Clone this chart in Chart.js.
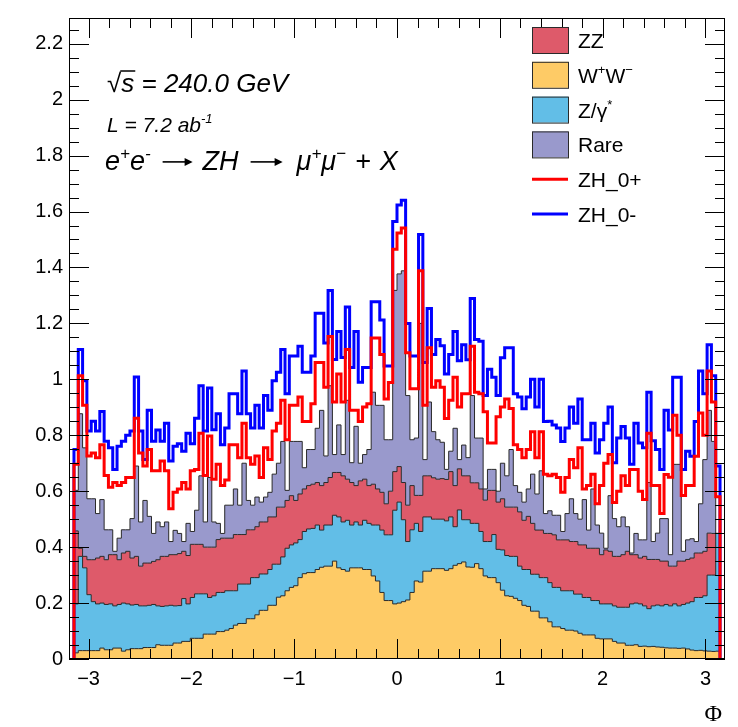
<!DOCTYPE html>
<html>
<head>
<meta charset="utf-8">
<script src="https://cdn.jsdelivr.net/npm/chart.js@4.4.1/dist/chart.umd.min.js"></script>
<style>
  html, body { margin: 0; padding: 0; background: #fff; }
  canvas { display: block; }
</style>
</head>
<body>
<canvas id="phiChart" width="738" height="727"></canvas>
<script>
// binning of the Phi histogram
const nBins = 150;
const phiMin = -Math.PI;
const phiMax = Math.PI;

const xTicks = [-3, -2, -1, 0, 1, 2, 3];
const yTicks = [0, 0.2, 0.4, 0.6, 0.8, 1, 1.2, 1.4, 1.6, 1.8, 2, 2.2];

// stacked background, height of each layer's top edge per bin
const topWW = [
  0.022, 0.030, 0.030, 0.030, 0.030, 0.030, 0.039, 0.033, 0.033, 0.039,
  0.039, 0.028, 0.033, 0.037, 0.037, 0.037, 0.041, 0.041, 0.041, 0.051,
  0.049, 0.049, 0.049, 0.057, 0.057, 0.063, 0.063, 0.074, 0.074, 0.074,
  0.089, 0.089, 0.089, 0.098, 0.098, 0.103, 0.109, 0.121, 0.127, 0.127,
  0.144, 0.144, 0.158, 0.174, 0.174, 0.192, 0.192, 0.221, 0.226, 0.244,
  0.256, 0.262, 0.291, 0.305, 0.309, 0.309, 0.320, 0.328, 0.332, 0.332,
  0.350, 0.326, 0.320, 0.314, 0.326, 0.326, 0.326, 0.320, 0.320, 0.297,
  0.279, 0.238, 0.209, 0.209, 0.197, 0.200, 0.205, 0.211, 0.238, 0.279,
  0.275, 0.314, 0.314, 0.323, 0.323, 0.323, 0.317, 0.323, 0.335, 0.341,
  0.347, 0.329, 0.328, 0.341, 0.323, 0.297, 0.291, 0.291, 0.273, 0.246,
  0.226, 0.224, 0.217, 0.209, 0.192, 0.188, 0.171, 0.171, 0.147, 0.147,
  0.133, 0.115, 0.115, 0.109, 0.103, 0.103, 0.100, 0.092, 0.086, 0.086,
  0.086, 0.074, 0.072, 0.072, 0.072, 0.063, 0.057, 0.057, 0.049, 0.049,
  0.051, 0.045, 0.046, 0.044, 0.045, 0.043, 0.042, 0.040, 0.039, 0.039,
  0.038, 0.039, 0.036, 0.032, 0.030, 0.031, 0.029, 0.028, 0.027, 0.028
];
const topZg = [
  0.197, 0.367, 0.326, 0.230, 0.205, 0.197, 0.200, 0.195, 0.197, 0.190,
  0.195, 0.200, 0.197, 0.193, 0.195, 0.190, 0.190, 0.192, 0.195, 0.190,
  0.188, 0.190, 0.192, 0.190, 0.191, 0.216, 0.197, 0.220, 0.233, 0.233,
  0.233, 0.220, 0.226, 0.238, 0.238, 0.244, 0.244, 0.244, 0.268, 0.268,
  0.268, 0.291, 0.291, 0.304, 0.304, 0.320, 0.339, 0.339, 0.365, 0.396,
  0.408, 0.415, 0.427, 0.456, 0.465, 0.467, 0.479, 0.461, 0.479, 0.479,
  0.514, 0.508, 0.490, 0.496, 0.479, 0.490, 0.479, 0.496, 0.485, 0.479,
  0.479, 0.461, 0.444, 0.444, 0.532, 0.561, 0.498, 0.420, 0.462, 0.485,
  0.456, 0.508, 0.508, 0.500, 0.500, 0.500, 0.494, 0.508, 0.473, 0.533,
  0.498, 0.498, 0.485, 0.485, 0.456, 0.420, 0.420, 0.445, 0.392, 0.390,
  0.370, 0.367, 0.367, 0.332, 0.320, 0.320, 0.303, 0.303, 0.291, 0.291,
  0.273, 0.256, 0.256, 0.244, 0.244, 0.244, 0.232, 0.232, 0.220, 0.220,
  0.209, 0.209, 0.197, 0.197, 0.197, 0.190, 0.185, 0.185, 0.185, 0.197,
  0.200, 0.197, 0.190, 0.180, 0.190, 0.193, 0.190, 0.195, 0.190, 0.197,
  0.190, 0.195, 0.200, 0.205, 0.220, 0.220, 0.226, 0.300, 0.300, 0.449
];
const topZZ = [
  0.458, 0.396, 0.367, 0.355, 0.355, 0.361, 0.367, 0.355, 0.373, 0.373,
  0.355, 0.379, 0.385, 0.361, 0.367, 0.332, 0.343, 0.343, 0.349, 0.355,
  0.367, 0.367, 0.373, 0.373, 0.377, 0.385, 0.370, 0.410, 0.410, 0.410,
  0.400, 0.400, 0.400, 0.427, 0.432, 0.432, 0.432, 0.445, 0.445, 0.445,
  0.462, 0.462, 0.473, 0.490, 0.490, 0.508, 0.508, 0.543, 0.543, 0.567,
  0.584, 0.567, 0.590, 0.608, 0.620, 0.625, 0.631, 0.620, 0.631, 0.649,
  0.667, 0.667, 0.655, 0.643, 0.631, 0.620, 0.637, 0.643, 0.620, 0.625,
  0.608, 0.596, 0.555, 0.600, 0.670, 0.688, 0.631, 0.550, 0.620, 0.585,
  0.585, 0.655, 0.655, 0.648, 0.643, 0.645, 0.642, 0.670, 0.620, 0.680,
  0.655, 0.655, 0.630, 0.630, 0.608, 0.568, 0.603, 0.603, 0.561, 0.573,
  0.543, 0.543, 0.543, 0.526, 0.496, 0.510, 0.485, 0.461, 0.461, 0.449,
  0.449, 0.444, 0.426, 0.426, 0.426, 0.420, 0.420, 0.408, 0.408, 0.396,
  0.396, 0.396, 0.373, 0.390, 0.385, 0.367, 0.367, 0.373, 0.385, 0.373,
  0.373, 0.361, 0.367, 0.356, 0.356, 0.356, 0.350, 0.350, 0.332, 0.332,
  0.350, 0.350, 0.356, 0.361, 0.379, 0.379, 0.385, 0.450, 0.449, 0.449
];
const topRare = [
  0.603, 0.877, 0.755, 0.573, 0.573, 0.520, 0.570, 0.462, 0.462, 0.385,
  0.432, 0.462, 0.462, 0.502, 0.690, 0.490, 0.567, 0.510, 0.449, 0.490,
  0.473, 0.490, 0.420, 0.460, 0.449, 0.420, 0.485, 0.456, 0.532, 0.655,
  0.490, 0.649, 0.490, 0.485, 0.449, 0.550, 0.550, 0.608, 0.550, 0.700,
  0.567, 0.550, 0.579, 0.561, 0.579, 0.596, 0.661, 0.700, 0.778, 0.603,
  0.778, 0.778, 0.778, 0.684, 0.749, 0.749, 0.825, 0.889, 0.726, 0.977,
  0.731, 0.837, 0.731, 0.925, 0.702, 0.832, 0.700, 0.731, 0.749, 0.954,
  0.907, 0.907, 0.784, 0.784, 1.318, 1.377, 1.388, 0.942, 0.784, 0.790,
  1.200, 0.713, 0.919, 0.813, 0.784, 0.775, 0.678, 0.743, 0.825, 0.713,
  0.765, 0.720, 0.942, 0.790, 0.790, 0.608, 0.678, 0.678, 0.600, 0.700,
  0.655, 0.749, 0.620, 0.596, 0.561, 0.608, 0.661, 0.590, 0.673, 0.520,
  0.530, 0.514, 0.514, 0.456, 0.520, 0.573, 0.520, 0.500, 0.570, 0.461,
  0.608, 0.479, 0.450, 0.396, 0.584, 0.502, 0.473, 0.508, 0.473, 0.379,
  0.449, 0.426, 0.426, 0.631, 0.420, 0.450, 0.502, 0.502, 0.373, 0.696,
  0.696, 0.385, 0.426, 0.430, 0.420, 0.555, 0.713, 0.889, 0.778, 0.449
];

// background + signal, one line per CP hypothesis
const lineZH0p = [
  0.696, 1.013, 0.907, 0.726, 0.737, 0.720, 0.766, 0.656, 0.614, 0.631,
  0.620, 0.631, 0.649, 0.649, 0.861, 0.737, 0.690, 0.749, 0.673, 0.673,
  0.708, 0.673, 0.537, 0.596, 0.608, 0.631, 0.608, 0.673, 0.678, 0.807,
  0.656, 0.797, 0.643, 0.696, 0.620, 0.640, 0.766, 0.766, 0.720, 0.843,
  0.720, 0.696, 0.726, 0.649, 0.755, 0.713, 0.815, 0.843, 0.925, 0.784,
  0.907, 0.907, 0.937, 0.849, 0.849, 0.913, 1.060, 1.060, 0.972, 1.153,
  0.919, 1.019, 0.919, 1.107, 0.889, 0.889, 0.849, 0.901, 0.913, 1.148,
  1.148, 1.089, 0.930, 0.989, 1.465, 1.523, 1.541, 1.095, 0.966, 0.966,
  1.388, 0.907, 1.113, 0.972, 0.995, 0.972, 0.860, 0.925, 1.007, 0.901,
  0.948, 0.948, 1.118, 0.954, 0.948, 0.884, 0.772, 0.772, 0.866, 0.901,
  0.930, 0.896, 0.766, 0.749, 0.720, 0.749, 0.813, 0.720, 0.813, 0.661,
  0.655, 0.661, 0.649, 0.596, 0.649, 0.713, 0.684, 0.755, 0.608, 0.620,
  0.661, 0.555, 0.620, 0.700, 0.731, 0.560, 0.600, 0.655, 0.620, 0.678,
  0.678, 0.600, 0.570, 0.807, 0.620, 0.620, 0.520, 0.660, 0.650, 0.872,
  0.800, 0.585, 0.620, 0.620, 0.725, 0.880, 0.800, 1.030, 0.919, 0.580
];
const lineZH0m = [
  0.749, 1.107, 0.995, 0.815, 0.850, 0.815, 0.885, 0.779, 0.755, 0.678,
  0.761, 0.779, 0.800, 0.815, 1.008, 0.815, 0.713, 0.889, 0.779, 0.819,
  0.779, 0.843, 0.708, 0.761, 0.770, 0.743, 0.807, 0.770, 0.861, 0.977,
  0.815, 0.969, 0.820, 0.877, 0.766, 0.826, 0.948, 0.948, 0.877, 1.030,
  0.877, 0.826, 0.907, 0.826, 0.942, 0.889, 0.995, 1.025, 1.107, 0.948,
  1.083, 1.083, 1.118, 1.025, 1.025, 1.083, 1.236, 1.236, 1.130, 1.318,
  1.071, 1.171, 1.078, 1.259, 1.042, 1.171, 0.990, 1.042, 1.042, 1.277,
  1.277, 1.212, 1.048, 1.048, 1.564, 1.623, 1.640, 1.200, 1.083, 1.083,
  1.518, 1.060, 1.253, 1.089, 1.142, 1.120, 1.019, 1.089, 1.171, 1.066,
  1.124, 1.070, 1.289, 1.142, 1.136, 0.942, 1.036, 1.007, 0.942, 1.077,
  1.113, 1.113, 0.948, 0.937, 0.895, 0.937, 1.000, 0.901, 1.000, 0.849,
  0.850, 0.837, 0.826, 0.778, 0.826, 0.901, 0.843, 0.930, 0.784, 0.784,
  0.843, 0.737, 0.784, 0.843, 0.901, 0.702, 0.790, 0.831, 0.790, 0.696,
  0.843, 0.772, 0.755, 0.954, 0.780, 0.749, 0.678, 0.889, 0.819, 1.007,
  1.007, 0.678, 0.743, 0.725, 0.849, 1.030, 0.948, 1.124, 1.013, 0.690
];

const colZZ = '#de5a6a';
const colWW = '#fecb66';
const colZg = '#62bee7';
const colRare = '#9999cc';
const colZH0p = '#ff0000';
const colZH0m = '#0000ff';

const FONT = "'Liberation Sans', Arial, sans-serif";

function binEdge(i) {
  return phiMin + (phiMax - phiMin) * i / nBins;
}

// histogram outline: drop to zero at both ends like a ROOT "hist" contour
function histPoints(values) {
  const pts = [{ x: binEdge(0), y: 0 }];
  values.forEach((v, i) => pts.push({ x: binEdge(i), y: v }));
  pts.push({ x: binEdge(nBins), y: values[nBins - 1] });
  pts.push({ x: binEdge(nBins), y: 0 });
  return pts;
}

function stackLayer(label, values, color, fill) {
  return {
    label: label,
    data: histPoints(values),
    stepped: true,
    fill: fill,
    backgroundColor: color,
    borderColor: '#2a2a2a',
    borderWidth: 1
  };
}

function signalLine(label, values, color) {
  return {
    label: label,
    data: histPoints(values),
    stepped: true,
    fill: false,
    borderColor: color,
    borderWidth: 3
  };
}

// text with superscripts, gaps and drawn arrows; returns the x extent of every piece
function drawParts(ctx, parts, x, y, size, style) {
  let cx = x;
  const spans = [];
  parts.forEach(p => {
    if (p.gap) {
      cx += p.gap;
      spans.push({ x0: cx, x1: cx });
      return;
    }
    if (p.arrow) {
      const ay = y - size * 0.3;
      ctx.save();
      ctx.strokeStyle = ctx.fillStyle;
      ctx.lineWidth = 1.6;
      ctx.beginPath();
      ctx.moveTo(cx, ay); ctx.lineTo(cx + p.arrow - 2, ay);
      ctx.stroke();
      ctx.beginPath();
      ctx.moveTo(cx + p.arrow, ay);
      ctx.lineTo(cx + p.arrow - 8, ay - 4);
      ctx.lineTo(cx + p.arrow - 8, ay + 4);
      ctx.closePath();
      ctx.fill();
      ctx.restore();
      spans.push({ x0: cx, x1: cx + p.arrow });
      cx += p.arrow;
      return;
    }
    const s = p.sup ? Math.round(size * 0.62) : size;
    ctx.font = style + ' ' + s + 'px ' + FONT;
    ctx.fillText(p.t, cx, p.sup ? y - size * 0.42 : y);
    const w = ctx.measureText(p.t).width;
    spans.push({ x0: cx, x1: cx + w });
    cx += w;
  });
  return spans;
}

const legendEntries = [
  { parts: [{ t: 'ZZ' }], fill: colZZ },
  { parts: [{ t: 'W' }, { t: '+', sup: true }, { t: 'W' }, { t: '\u2212', sup: true }], fill: colWW },
  { parts: [{ t: 'Z/\u03b3' }, { t: '*', sup: true }], fill: colZg },
  { parts: [{ t: 'Rare' }], fill: colRare },
  { parts: [{ t: 'ZH_0+' }], line: colZH0p },
  { parts: [{ t: 'ZH_0-' }], line: colZH0m }
];

// frame with inward ticks on all four sides
const rootAxes = {
  id: 'rootAxes',
  afterDatasetsDraw(chart) {
    const { ctx, chartArea: a, scales: { x, y } } = chart;
    ctx.save();
    ctx.strokeStyle = '#000';
    ctx.lineWidth = 1;
    ctx.beginPath();
    for (let k = 0; k * 0.05 <= y.max; k++) {
      const py = Math.round(y.getPixelForValue(k * 0.05)) + 0.5;
      const len = k % 4 === 0 ? 20 : 10;
      ctx.moveTo(a.left, py); ctx.lineTo(a.left + len, py);
      ctx.moveTo(a.right, py); ctx.lineTo(a.right - len, py);
    }
    for (let k = -16; k <= 16; k++) {
      const v = k * 0.2;
      if (v < x.min || v > x.max) continue;
      const px = Math.round(x.getPixelForValue(v)) + 0.5;
      const len = k % 5 === 0 ? 20 : 10;
      ctx.moveTo(px, a.bottom); ctx.lineTo(px, a.bottom - len);
      ctx.moveTo(px, a.top); ctx.lineTo(px, a.top + len);
    }
    ctx.stroke();
    ctx.strokeRect(Math.round(a.left) + 0.5, Math.round(a.top) + 0.5,
      Math.round(a.width) - 1, Math.round(a.height) - 1);
    ctx.restore();
  }
};

// legend, process text and axis title
const rootLabels = {
  id: 'rootLabels',
  afterDraw(chart) {
    const ctx = chart.ctx;
    ctx.save();
    ctx.fillStyle = '#000';
    ctx.textBaseline = 'alphabetic';

    legendEntries.forEach((e, i) => {
      const cy = 40 + i * 34.8;
      if (e.fill) {
        ctx.fillStyle = e.fill;
        ctx.fillRect(532, cy - 13, 36, 26);
        ctx.strokeStyle = '#2a2a2a';
        ctx.lineWidth = 1;
        ctx.strokeRect(532.5, cy - 12.5, 36, 26);
      } else {
        ctx.strokeStyle = e.line;
        ctx.lineWidth = 3;
        ctx.beginPath();
        ctx.moveTo(532, cy); ctx.lineTo(568, cy);
        ctx.stroke();
      }
      ctx.fillStyle = '#000';
      drawParts(ctx, e.parts, 578, cy + 8, 21, 'normal');
    });

    // sqrt(s) with its overline
    const sp = drawParts(ctx, [{ t: '\u221a' }, { t: 's' }, { t: ' = 240.0 GeV' }], 107, 92, 26, 'italic');
    ctx.strokeStyle = '#000';
    ctx.lineWidth = 1.5;
    ctx.beginPath();
    ctx.moveTo(sp[0].x1 - 1, 92 - 21);
    ctx.lineTo(sp[1].x1 + 1, 92 - 21);
    ctx.stroke();

    drawParts(ctx, [{ t: 'L = 7.2 ab' }, { t: '-1', sup: true }], 107, 132, 21, 'italic');

    drawParts(ctx, [
      { t: 'e' }, { t: '+', sup: true }, { t: 'e' }, { t: '-', sup: true },
      { gap: 12 }, { arrow: 30 }, { gap: 10 },
      { t: 'ZH' },
      { gap: 12 }, { arrow: 32 }, { gap: 14 },
      { t: '\u03bc' }, { t: '+', sup: true }, { t: '\u03bc' }, { t: '\u2212', sup: true },
      { gap: 9 }, { t: '+' }, { gap: 9 }, { t: 'X' }
    ], 105, 170, 27, 'italic');

    ctx.font = "24px 'Liberation Serif', 'DejaVu Serif', serif";
    ctx.textAlign = 'right';
    ctx.fillText('\u03a6', 722, 721);
    ctx.restore();
  }
};

new Chart(document.getElementById('phiChart'), {
  type: 'line',
  data: {
    datasets: [
      signalLine('ZH_0+', lineZH0p, colZH0p),
      signalLine('ZH_0-', lineZH0m, colZH0m),
      stackLayer('Rare', topRare, colRare, '+1'),
      stackLayer('ZZ', topZZ, colZZ, '+1'),
      stackLayer('Z/\u03b3*', topZg, colZg, '+1'),
      stackLayer('W+W-', topWW, colWW, 'origin')
    ]
  },
  options: {
    responsive: false,
    animation: false,
    devicePixelRatio: 1,
    events: [],
    layout: { padding: { top: 8, right: 13, bottom: 0, left: 0 } },
    elements: {
      point: { radius: 0, hoverRadius: 0 },
      line: { tension: 0, borderJoinStyle: 'miter' }
    },
    plugins: {
      legend: { display: false },
      tooltip: { enabled: false },
      filler: { drawTime: 'beforeDatasetsDraw' }
    },
    scales: {
      x: {
        type: 'linear',
        min: -3.19,
        max: 3.19,
        grid: { display: false, drawTicks: false },
        border: { display: false },
        afterBuildTicks: s => { s.ticks = xTicks.map(v => ({ value: v })); },
        afterFit: s => { s.height = 68; },
        ticks: {
          autoSkip: false,
          maxRotation: 0,
          padding: 8,
          color: '#000',
          font: { family: FONT, size: 20 },
          callback: v => (v < 0 ? '\u2212' + Math.abs(v) : String(v))
        }
      },
      y: {
        type: 'linear',
        min: 0,
        max: 2.292,
        grid: { display: false, drawTicks: false },
        border: { display: false },
        afterBuildTicks: s => { s.ticks = yTicks.map(v => ({ value: v })); },
        afterFit: s => { s.width = 69; },
        ticks: {
          padding: 6,
          color: '#000',
          font: { family: FONT, size: 20 },
          callback: v => String(+v.toFixed(1))
        }
      }
    }
  },
  plugins: [rootAxes, rootLabels]
});
</script>
</body>
</html>
